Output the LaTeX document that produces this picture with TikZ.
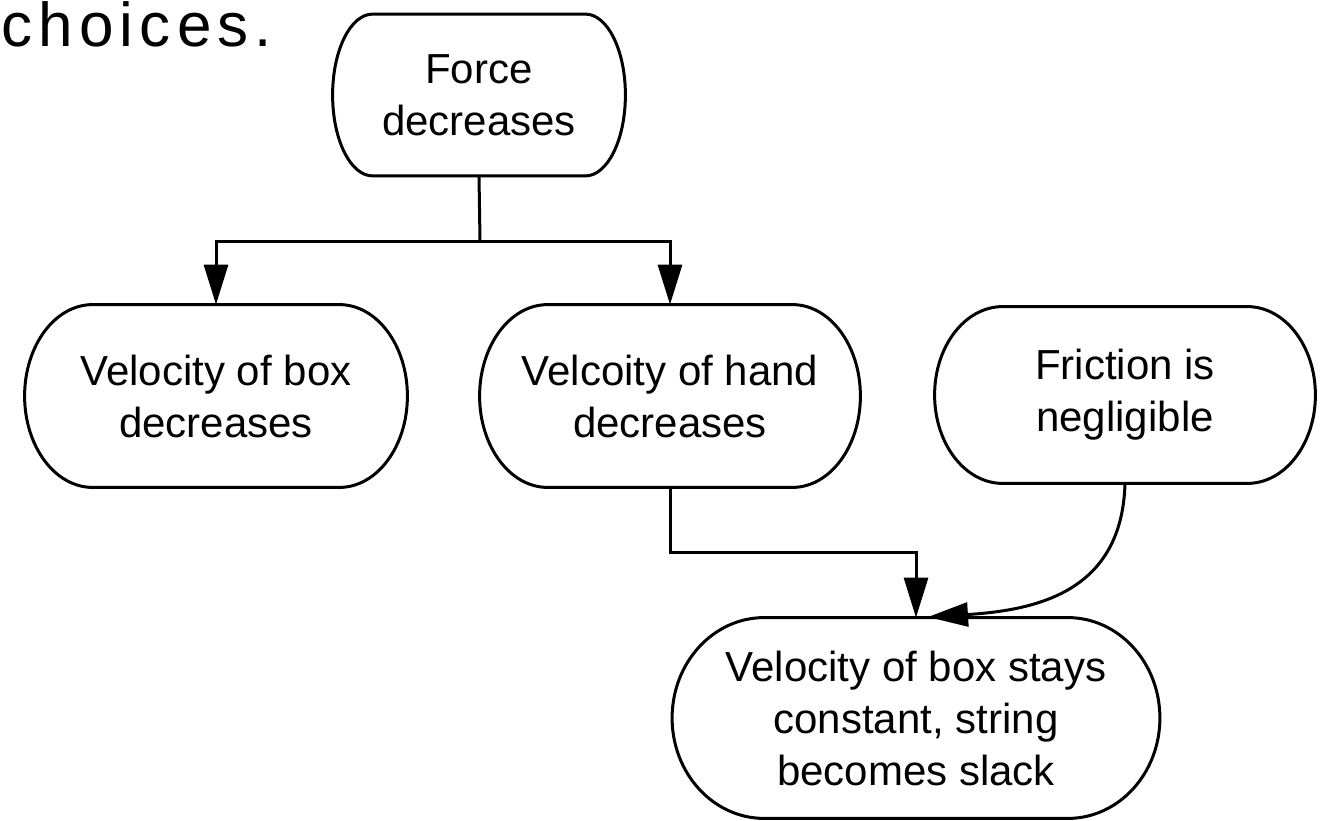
\documentclass[tikz,border=0pt]{standalone}
\usepackage{fontspec}
\setmainfont{Liberation Sans}
\newfontfamily\chfont[LetterSpace=10]{Liberation Sans}
\usetikzlibrary{arrows.meta,calc}
\newcommand\termshape[2]{%
  \draw[shapeline] let \p1=(#1.north west), \p2=(#1.south east) in
    (\x1+#2,\y1) -- (\x2-#2,\y1)
    arc[start angle=90,end angle=-90,x radius=#2,y radius={(\y1-\y2)/2}]
    -- (\x1+#2,\y2)
    arc[start angle=270,end angle=90,x radius=#2,y radius={(\y1-\y2)/2}]
    -- cycle;}
\begin{document}
\begin{tikzpicture}[x=0.5pt,y=-0.5pt,
  txt/.style={align=center,font=\fontsize{21}{26}\selectfont,inner sep=0pt},
  shapeline/.style={line width=1.5pt,line join=round},
  conn/.style={line width=1.5pt,-{Triangle[length=20pt,width=12pt]}}]
\useasboundingbox (0,0) rectangle (1323,820);
\clip (0,0) rectangle (1323,820);
\node[anchor=base west,inner sep=0pt,font=\chfont\fontsize{31}{36}\selectfont] (ch) at (1,46) {choices.};
\node[txt,minimum width=146pt,minimum height=80.5pt] (F) at (479,95) {Force\\decreases};
\node[txt,minimum width=191pt,minimum height=91pt] (VB) at (216,396) {Velocity of box\\decreases};
\node[txt,minimum width=190pt,minimum height=91pt] (VH) at (670,396) {Velcoity of hand\\decreases};
\node[txt,minimum width=190pt,minimum height=88pt] (FR) at (1125,395) {Friction is\\negligible};
\node[txt,minimum width=243.5pt,minimum height=100pt] (B) at (916,718) {Velocity of box stays\\constant, string\\becomes slack};
\termshape{F}{20pt}
\termshape{VB}{34pt}
\termshape{VH}{34pt}
\termshape{FR}{34pt}
\termshape{B}{46pt}
\coordinate (j1) at (480,241);
\coordinate (j2) at (670,552);
\coordinate (bt) at (928,617);
\draw[line width=1.5pt] (F.south) -- (j1);
\draw[conn] (j1) -| (VB.north);
\draw[conn] (j1) -| (VH.north);
\draw[conn] (VH.south) -- (j2) -| (B.north);
\draw[conn] (FR.south) .. controls (1122,590) and (1040,610) .. (bt);
\end{tikzpicture}
\end{document}
